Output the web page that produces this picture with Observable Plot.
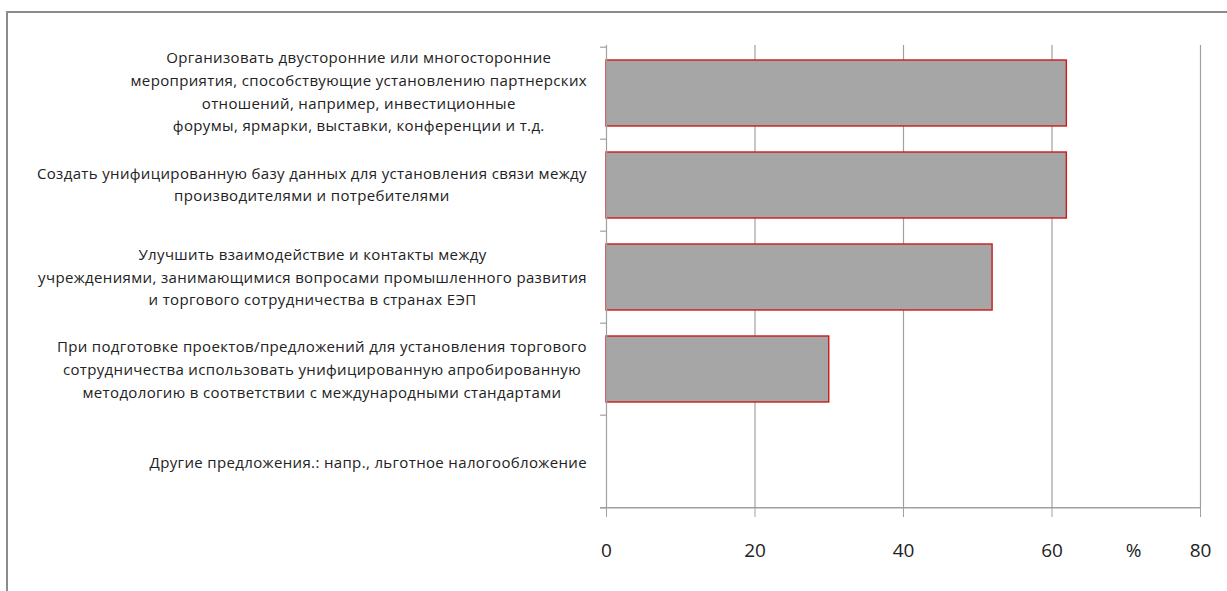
<!DOCTYPE html>
<html>
<head>
<meta charset="utf-8">
<script src="https://cdn.jsdelivr.net/npm/d3@7"></script>
<script src="https://cdn.jsdelivr.net/npm/@observablehq/plot@0.6"></script>
<style>
  html, body { margin: 0; padding: 0; background: #fff; }
  #chart { position: relative; width: 1227px; height: 591px; overflow: hidden; }
  #frame { position: absolute; left: 6px; top: 11px; width: 1240px; height: 600px;
           border: 2px solid #8c8c8c; box-sizing: border-box; pointer-events: none; }
  #chart svg { position: absolute; left: 0; top: 0; }
  #chart svg g[aria-label="y-axis tick label"] { letter-spacing: 0.35px; }
</style>
</head>
<body>
<div id="chart"><div id="frame"></div></div>
<script>
// Survey proposals (category labels, top to bottom)
const proposals = [
  "Организовать двусторонние или многосторонние\nмероприятия, способствующие установлению партнерских\nотношений, например, инвестиционные\nфорумы, ярмарки, выставки, конференции и т.д.",
  "Создать унифицированную базу данных для установления связи между\nпроизводителями и потребителями",
  "Улучшить взаимодействие и контакты между\nучреждениями, занимающимися вопросами промышленного развития\nи торгового сотрудничества в странах ЕЭП",
  "При подготовке проектов/предложений для установления торгового\nсотрудничества использовать унифицированную апробированную\nметодологию в соответствии с международными стандартами",
  "Другие предложения.: напр., льготное налогообложение"
];

// Share of respondents, %
const shares = [62, 62, 52, 30, 0];

// x-axis ticks and unit label
const xTicks = [0, 20, 40, 60, 80];
const unitLabel = "%";

const data = proposals.map((p, i) => ({proposal: p, share: shares[i]}));

const W = 1227, H = 591;
const mTop = 45, mBottom = 83, mLeft = 606, mRight = 27;
const step = (H - mTop - mBottom) / proposals.length;
const labelRight = 587;   // right edge of the category label blocks
const fontCat = "'Open Sans', 'Noto Sans', sans-serif";

// boundaries between category bands (Excel-style tick marks)
const boundaries = proposals.map((p, i) => ({proposal: p, off: -step / 2}))
  .concat([{proposal: proposals[proposals.length - 1], off: step / 2}]);

const chart = Plot.plot({
  width: W,
  height: H,
  marginTop: mTop,
  marginBottom: mBottom,
  marginLeft: mLeft,
  marginRight: mRight,
  style: {fontFamily: fontCat, background: "transparent", overflow: "visible"},
  x: {domain: [0, 80]},
  y: {domain: proposals, padding: 0},
  marks: [
    Plot.gridX({ticks: xTicks.filter(t => t > 0), stroke: "#a0a0a0", strokeOpacity: 1, strokeWidth: 1.2}),
    Plot.barX(data, {
      x: "share", y: "proposal",
      fill: "#a6a6a6", stroke: "#cc1a1a", strokeWidth: 1.4,
      insetTop: 13, insetBottom: 13
    }),
    Plot.ruleX([0], {stroke: "#a0a0a0", strokeWidth: 1.2}),
    // band boundary ticks on the category axis
    ...boundaries.map(b => Plot.ruleY([b], {
      y: "proposal", x1: -0.8, x2: 0, dy: b.off, stroke: "#a0a0a0", strokeWidth: 1.2
    })),
    // baseline of the value axis
    Plot.ruleY([boundaries[boundaries.length - 1]], {
      y: "proposal", x1: -0.8, x2: 80, dy: step / 2, stroke: "#a0a0a0", strokeWidth: 1.5
    }),
    Plot.axisX({
      ticks: xTicks, tickSize: 9, tickPadding: 26, fontSize: 19,
      stroke: "#a0a0a0", fill: "#222", label: null,
      fontFamily: "'Open Sans', sans-serif"
    }),
    Plot.text([unitLabel], {
      x: 71, frameAnchor: "bottom", dy: 48, text: d => d,
      fontSize: 19, fill: "#222", fontFamily: "'Open Sans', sans-serif"
    }),
    Plot.axisY({
      tickSize: 0, tickPadding: 19, textAnchor: "middle",
      fontSize: 15, lineHeight: 1.52, fill: "#222", label: null,
      lineWidth: 100
    })
  ]
});

document.getElementById("chart").appendChild(chart);

// Each multi-line category label is centred on itself, right-aligned as a block,
// and vertically centred on its band
const svgBox = chart.getBoundingClientRect();
const yScale = chart.scale("y");
chart.querySelectorAll('g[aria-label="y-axis tick label"] text').forEach((t, i) => {
  const r = t.getBoundingClientRect();
  const cx = r.left - svgBox.left + r.width / 2;
  const cy = r.top - svgBox.top + r.height / 2;
  const bandCenter = mTop + step * (i + 0.5);
  const target = labelRight - r.width / 2;
  const prev = t.getAttribute("transform") || "";
  t.setAttribute("transform", `translate(${target - cx},${bandCenter - cy}) ${prev}`);
});
</script>
</body>
</html>
